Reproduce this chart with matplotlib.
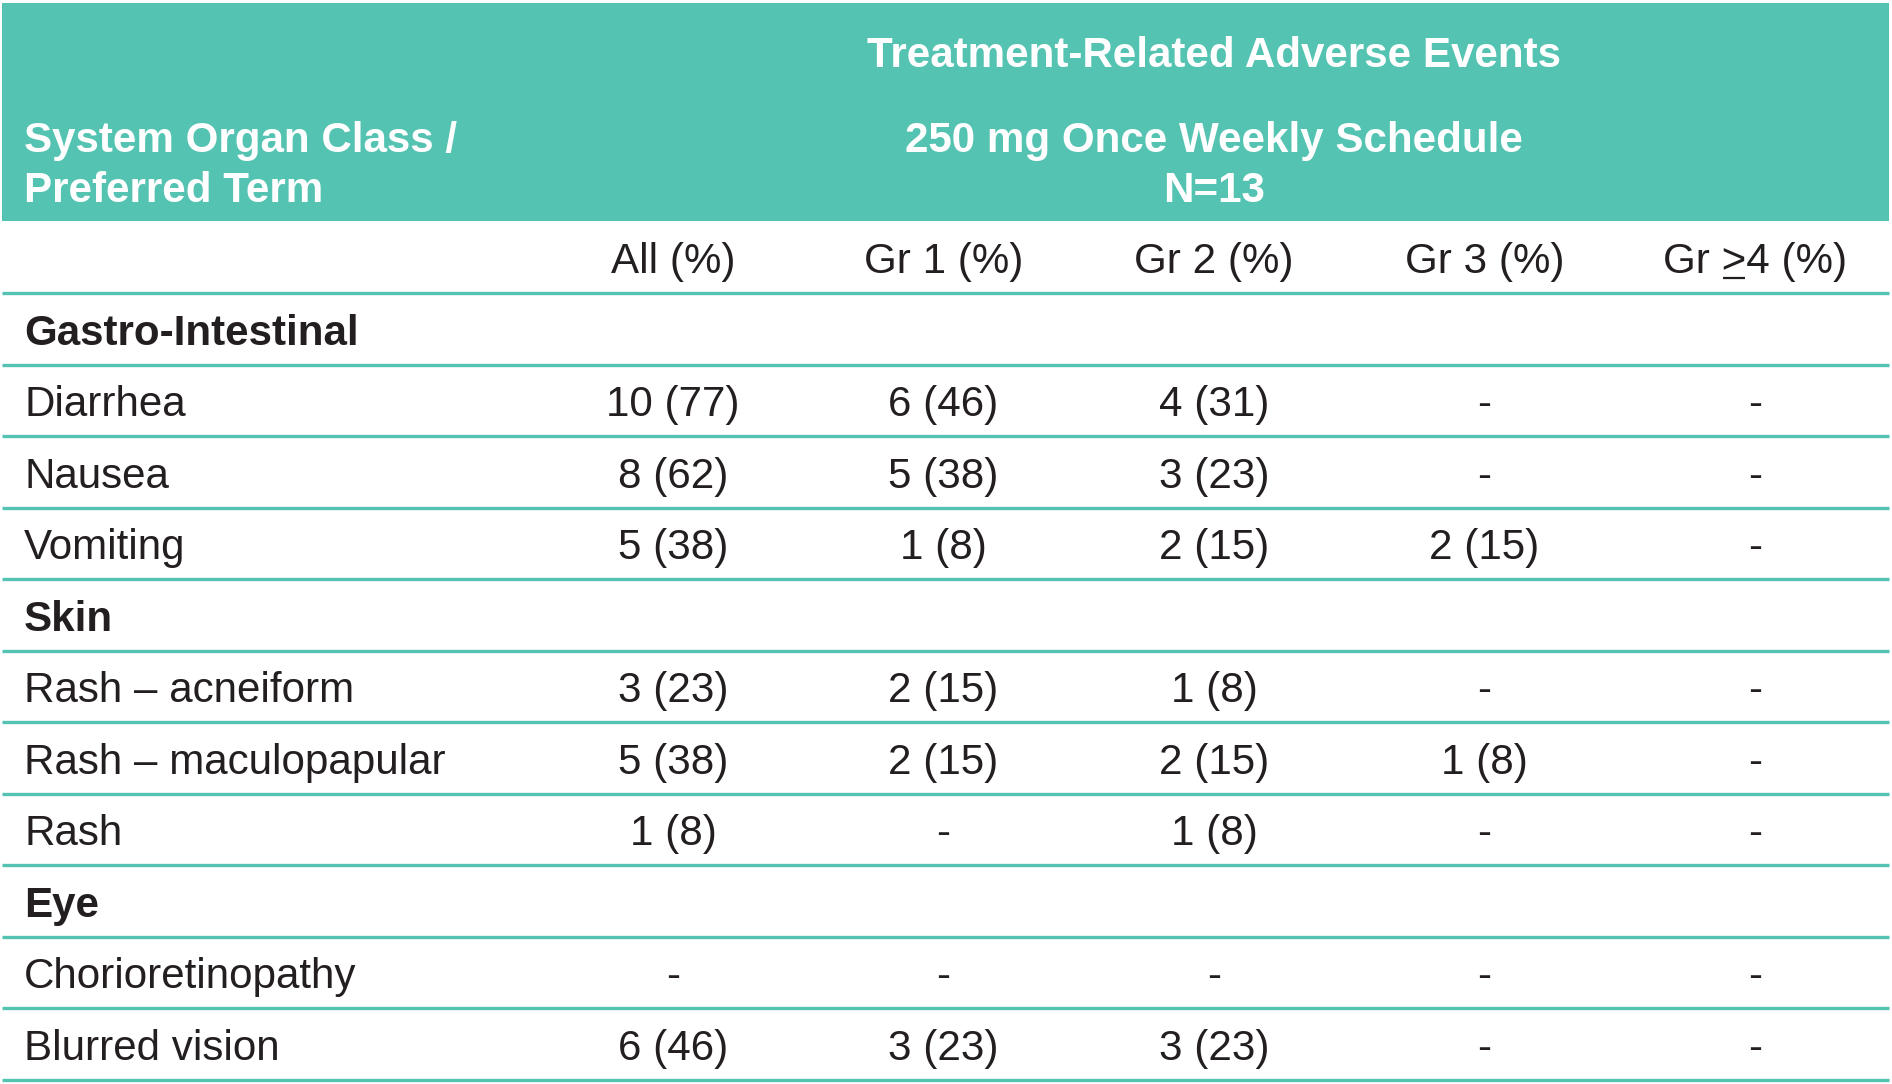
import matplotlib
matplotlib.use("Agg")
import matplotlib.pyplot as plt

# table content
grade_cols = ["All (%)", "Gr 1 (%)", "Gr 2 (%)", "Gr 3 (%)", "Gr >4 (%)"]
n_patients = 13

# (label, is_category)
row_labels = ["Gastro-Intestinal", "Diarrhea", "Nausea", "Vomiting",
              "Skin", "Rash \u2013 acneiform", "Rash \u2013 maculopapular", "Rash",
              "Eye", "Chorioretinopathy", "Blurred vision"]
is_category = [True, False, False, False, True, False, False, False, True, False, False]

# counts per grade column (None -> "-"), one list per column, only for term rows
count_all = [10, 8, 5, 3, 5, 1, None, 6]
count_gr1 = [6, 5, 1, 2, 2, None, None, 3]
count_gr2 = [4, 3, 2, 1, 2, 1, None, 3]
count_gr3 = [None, None, 2, None, 1, None, None, None]
count_gr4 = [None, None, None, None, None, None, None, None]
pct_all = [77, 62, 38, 23, 38, 8, None, 46]
pct_gr1 = [46, 38, 8, 15, 15, None, None, 23]
pct_gr2 = [31, 23, 15, 8, 15, 8, None, 23]
pct_gr3 = [None, None, 15, None, 8, None, None, None]
pct_gr4 = [None, None, None, None, None, None, None, None]

counts = [count_all, count_gr1, count_gr2, count_gr3, count_gr4]
pcts = [pct_all, pct_gr1, pct_gr2, pct_gr3, pct_gr4]

TEAL = "#55C3B2"
DARK = "#231F20"
FONT = ["Liberation Sans", "DejaVu Sans"]
FS = 30.3

W, H = 1892, 1084
fig = plt.figure(figsize=(W / 100, H / 100), dpi=100)
ax = fig.add_axes([0, 0, 1, 1])
ax.set_xlim(0, W)
ax.set_ylim(H, 0)
ax.axis("off")

x_left, x_right = 2, 1889
x_text = 24
col_x = [673 + 270.5 * i for i in range(5)]

# header band
ax.add_patch(plt.Rectangle((x_left, 3), x_right - x_left, 218, color=TEAL, lw=0))
hdr = dict(color="white", fontsize=FS, fontweight="bold", family=FONT, va="center")
ax.text(col_x[2], 56, "Treatment-Related Adverse Events", ha="center", **hdr)
ax.text(col_x[2], 141, "250 mg Once Weekly Schedule", ha="center", **hdr)
ax.text(col_x[2], 191, "N=%d" % n_patients, ha="center", **hdr)
ax.text(x_text, 141, "System Organ Class /", ha="left", **hdr)
ax.text(x_text, 191, "Preferred Term", ha="left", **hdr)

body = dict(color=DARK, fontsize=FS, family=FONT, va="center")

# grade column headers
sub_y = 262
col_texts = []
for cx, lab in zip(col_x, grade_cols):
    col_texts.append(ax.text(cx, sub_y, lab, ha="center", **body))

line_top = 293
row_h = 71.5
ax.plot([x_left, x_right], [line_top, line_top], color=TEAL, lw=2.4, solid_capstyle="butt")

k = 0
for i, (lab, cat) in enumerate(zip(row_labels, is_category)):
    y0 = line_top + i * row_h
    yc = y0 + row_h / 2 + 5
    if cat:
        ax.text(x_text, yc, lab, ha="left", fontweight="bold", **body)
    else:
        ax.text(x_text, yc, lab, ha="left", **body)
        for j in range(5):
            c, p = counts[j][k], pcts[j][k]
            s = "-" if c is None else "%d (%d)" % (c, p)
            ax.text(col_x[j], yc, s, ha="center", **body)
        k += 1
    yb = y0 + row_h
    ax.plot([x_left, x_right], [yb, yb], color=TEAL, lw=2.4, solid_capstyle="butt")

# underline the ">" in the last column header so it reads as ">="
fig.canvas.draw()
r = fig.canvas.get_renderer()
t = col_texts[-1]
bb = t.get_window_extent(r)
inv = ax.transData.inverted()
tmp = ax.text(0, 0, "Gr ", **body)
tmp2 = ax.text(0, 0, "Gr >", **body)
w1 = tmp.get_window_extent(r).width
w2 = tmp2.get_window_extent(r).width
tmp.remove()
tmp2.remove()
xa = inv.transform((bb.x0 + w1, 0))[0]
xb = inv.transform((bb.x0 + w2, 0))[0]
ax.plot([xa + 1, xb - 1], [sub_y + 16, sub_y + 16], color=DARK, lw=1.6, solid_capstyle="butt")

fig.savefig("out.png", dpi=100)
